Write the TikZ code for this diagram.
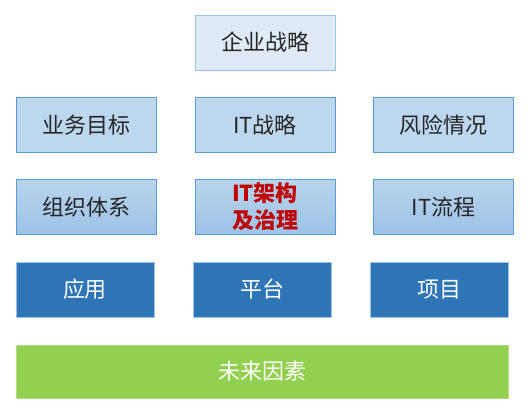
\documentclass[tikz,border=0pt]{standalone}
\usepackage{fontspec}
\setmainfont{Noto Sans CJK SC}
\usetikzlibrary{positioning}

\definecolor{paleblue}{HTML}{DEEBF7}
\definecolor{lightblue}{HTML}{BDD7EE}
\definecolor{midblue}{HTML}{9DC3E6}
\definecolor{edgeblue}{HTML}{5B9BD5}
\definecolor{deepblue}{HTML}{2E75B6}
\definecolor{leafgreen}{HTML}{92D050}
\definecolor{darkred}{HTML}{C00000}
\definecolor{inkgray}{HTML}{262626}

\tikzset{
  box/.style={draw=edgeblue, line width=0.8pt, minimum width=140pt, minimum height=55pt,
    inner sep=0pt, font=\fontsize{22}{27}\selectfont, text=inkgray, align=center},
  topbox/.style={box, fill=paleblue, draw=midblue},
  goalbox/.style={box, fill=lightblue},
  orgbox/.style={box, top color=lightblue!85!midblue, bottom color=midblue},
  layerbox/.style={box, fill=deepblue, draw=midblue, minimum width=138pt, text=white},
  basebar/.style={box, fill=leafgreen, draw=leafgreen!70!white, minimum width=492pt,
    minimum height=53pt, text=white}
}

\begin{document}
\begin{tikzpicture}[x=1pt, y=-1pt]
  \useasboundingbox (0,0) rectangle (528,413);
  % strategy on top
  \node[topbox] (corp) at (265,42.5) {企业战略};
  % drivers
  \node[goalbox] (goal) at (86,125) {业务目标};
  \node[goalbox] (itstrat) at (265,125) {IT战略};
  \node[goalbox] (risk) at (443.5,125) {风险情况};
  % organisation and governance
  \node[orgbox] (org) at (86,207) {组织体系};
  \node[orgbox, text=darkred, font=\fontsize{22}{27}\selectfont\bfseries] (itgov) at (265,207) {IT架构\\及治理};
  \node[orgbox] (itproc) at (443.5,207) {IT流程};
  % delivery layer
  \node[layerbox] (app) at (85,289.5) {应用};
  \node[layerbox] (plat) at (262.5,289.5) {平台};
  \node[layerbox] (proj) at (439.5,289.5) {项目};
  % base
  \node[basebar] (future) at (262,371.5) {未来因素};
\end{tikzpicture}
\end{document}
